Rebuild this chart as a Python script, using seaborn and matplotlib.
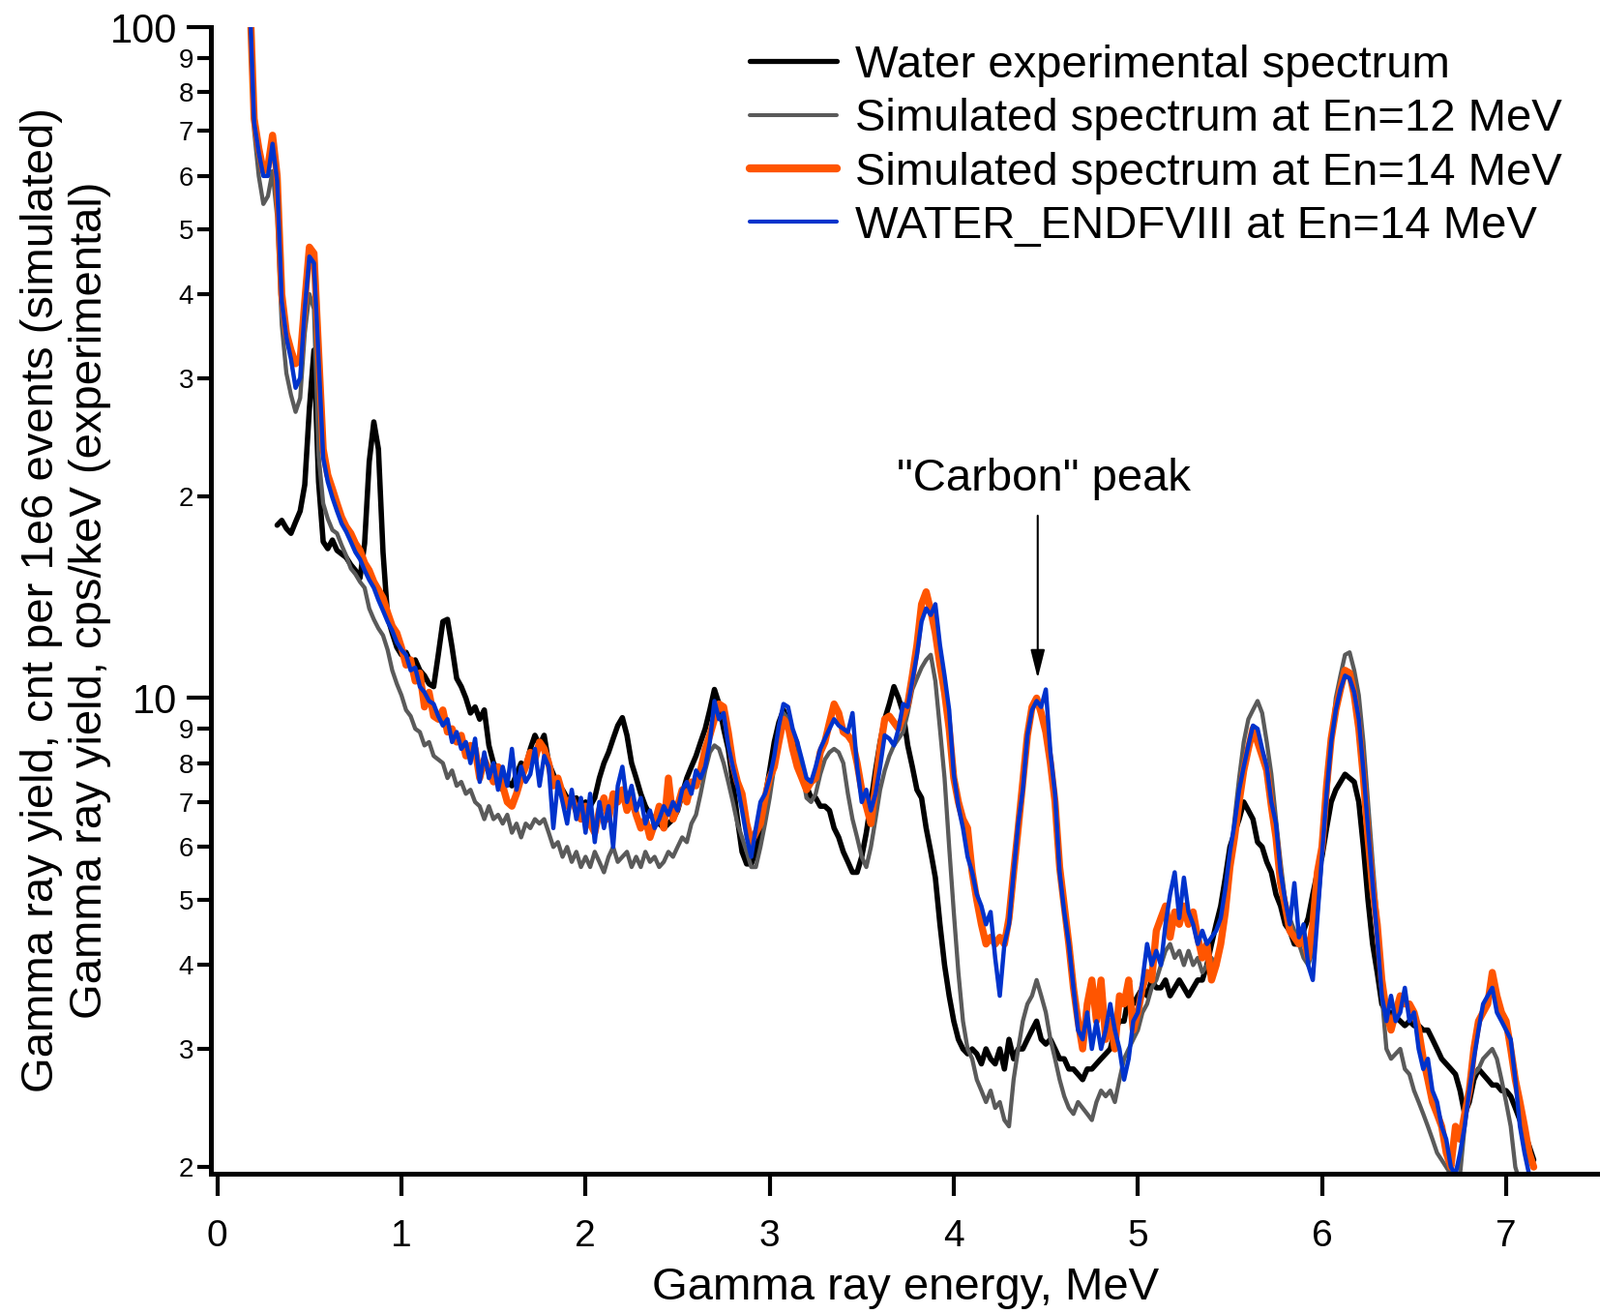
import numpy as np
import pandas as pd
import matplotlib
matplotlib.use("Agg")
import matplotlib.pyplot as plt
import seaborn as sns
from matplotlib.ticker import FixedLocator, FixedFormatter

sns.set_style("ticks")
plt.rcParams['font.family'] = ['Liberation Sans', 'DejaVu Sans']
for k in ["text.color", "axes.labelcolor", "xtick.color", "ytick.color",
          "axes.edgecolor"]:
    plt.rcParams[k] = "black"

# ---------------- data (energy grid step, MeV) ----------------
E_STEP = 0.025
SIM_START = 0.175   # first energy of simulated spectra
EXP_START = 0.325   # first energy of experimental spectrum

labels = ["Water experimental spectrum",
          "Simulated spectrum at En=12 MeV",
          "Simulated spectrum at En=14 MeV",
          "WATER_ENDFVIII at En=14 MeV"]

exp_water = [
    18.1, 18.4, 17.9, 17.6, 18.3, 19.0, 20.8, 27, 33, 21,
    17.1, 16.7, 17.2, 16.6, 16.4, 16.2, 15.8, 15.5, 15.1, 17.0,
    22.5, 25.8, 23.5, 16.5, 13.2, 12.5, 11.9, 11.6, 11.7, 11.3,
    11.4, 11.0, 10.8, 10.5, 10.4, 11.6, 13.0, 13.1, 11.9, 10.7,
    10.4, 10.0, 9.5, 9.7, 9.3, 9.6, 8.5, 8.0, 7.8, 7.3,
    7.5, 7.4, 7.7, 8.0, 7.9, 8.4, 8.8, 8.5, 8.8, 8.0,
    7.7, 7.4, 7.3, 7.1, 7.0, 7.1, 6.9, 7.0, 6.9, 7.1,
    7.6, 8.0, 8.3, 8.7, 9.1, 9.35, 8.8, 8.0, 7.6, 7.2,
    6.9, 6.7, 6.6, 6.5, 6.4, 6.5, 6.6, 6.8, 7.2, 7.6,
    7.9, 8.2, 8.6, 9.0, 9.6, 10.3, 9.8, 9.0, 8.4, 7.5,
    6.6, 5.9, 5.66, 5.66, 5.9, 6.4, 7.1, 7.8, 8.6, 9.2,
    9.6, 9.2, 8.7, 8.3, 7.8, 7.4, 7.1, 7.1, 6.9, 6.9,
    6.8, 6.4, 6.2, 5.9, 5.7, 5.5, 5.5, 5.8, 6.3, 7.0,
    7.8, 8.6, 9.3, 9.8, 10.4, 10.0, 9.5, 8.5, 7.9, 7.3,
    7.1, 6.4, 5.9, 5.4, 4.6, 4.0, 3.6, 3.3, 3.1, 3.0,
    2.95, 3.0, 2.95, 2.85, 3.0, 2.9, 2.85, 3.0, 2.8, 3.1,
    2.9, 3.0, 3.0, 3.1, 3.2, 3.3, 3.1, 3.05, 3.1, 3.0,
    2.9, 2.9, 2.8, 2.8, 2.75, 2.7, 2.8, 2.8, 2.85, 2.9,
    2.95, 3.0, 3.2, 3.3, 3.3, 3.6, 3.5, 3.6, 3.7, 3.6,
    3.8, 3.7, 3.7, 3.8, 3.6, 3.7, 3.8, 3.7, 3.6, 3.7,
    3.8, 3.8, 4.0, 4.3, 4.6, 4.9, 5.4, 6.0, 6.3, 6.6,
    7.0, 6.8, 6.6, 6.1, 6.0, 5.7, 5.5, 5.1, 4.9, 4.6,
    4.5, 4.3, 4.3, 4.5, 4.7, 5.1, 5.5, 5.8, 6.4, 7.0,
    7.3, 7.5, 7.7, 7.6, 7.5, 7.0, 6.0, 5.0, 4.3, 3.9,
    3.5, 3.4, 3.4, 3.35, 3.3, 3.25, 3.3, 3.25, 3.25, 3.2,
    3.2, 3.1, 3.0, 2.9, 2.85, 2.8, 2.75, 2.6, 2.4, 2.5,
    2.7, 2.8, 2.75, 2.7, 2.65, 2.65, 2.6, 2.6, 2.55, 2.45,
    2.35, 2.25, 2.15, 2.05,
]

sim_12 = [
    110, 70, 60, 54.5, 56, 61, 52, 36, 30.5, 28.3,
    26.7, 28, 35, 40, 38, 23, 19.5, 18.5, 17.8, 17.6,
    16.9, 16.3, 15.6, 15.3, 14.9, 14.6, 13.6, 13.1, 12.7, 12.4,
    11.8, 11.0, 10.5, 10.1, 9.6, 9.4, 9.0, 8.9, 8.5, 8.6,
    8.2, 8.1, 8.0, 7.6, 7.8, 7.4, 7.5, 7.2, 7.3, 7.0,
    6.9, 6.6, 6.9, 6.6, 6.7, 6.5, 6.7, 6.3, 6.5, 6.2,
    6.5, 6.4, 6.6, 6.5, 6.6, 6.3, 6.0, 6.1, 5.8, 6.0,
    5.7, 5.9, 5.6, 5.8, 5.6, 5.9, 5.7, 5.5, 5.8, 6.0,
    5.7, 5.8, 5.9, 5.6, 5.8, 5.6, 5.9, 5.7, 5.8, 5.6,
    5.7, 5.9, 5.8, 6.0, 6.2, 6.1, 6.5, 6.7, 7.2, 7.8,
    8.3, 8.5, 8.4, 8.0, 7.5, 7.0, 6.5, 6.2, 5.9, 5.6,
    5.6, 6.0, 6.5, 7.1, 7.9, 8.9, 9.5, 9.3, 8.9, 8.6,
    7.8, 7.1, 7.0, 7.2, 7.7, 8.1, 8.3, 8.4, 8.3, 8.0,
    7.2, 6.6, 6.2, 5.8, 5.6, 6.0, 6.6, 7.3, 7.8, 8.2,
    8.5, 8.7, 8.9, 9.5, 10.3, 10.7, 11.1, 11.4, 11.6, 10.6,
    9.0, 7.6, 6.0, 4.8, 3.9, 3.3, 3.0, 2.9, 2.7, 2.6,
    2.5, 2.6, 2.45, 2.5, 2.35, 2.3, 2.7, 3.0, 3.3, 3.5,
    3.6, 3.8, 3.6, 3.4, 3.1, 2.9, 2.7, 2.55, 2.45, 2.4,
    2.5, 2.45, 2.4, 2.35, 2.5, 2.6, 2.55, 2.6, 2.5, 2.7,
    2.9, 3.0, 3.1, 3.2, 3.4, 3.5, 3.7, 3.8, 4.0, 4.2,
    4.3, 4.1, 4.2, 4.0, 4.2, 4.0, 4.1, 3.9, 4.0, 4.1,
    4.0, 4.3, 4.8, 5.6, 6.6, 7.6, 8.6, 9.3, 9.6, 9.9,
    9.5, 8.6, 7.7, 6.6, 5.7, 5.0, 4.7, 4.5, 4.3, 4.1,
    4.0, 4.2, 4.8, 5.8, 7.0, 8.6, 10.0, 10.8, 11.6, 11.7,
    11.0, 10.1, 8.6, 7.0, 5.7, 4.7, 3.6, 3.0, 2.9, 2.95,
    3.0, 2.8, 2.75, 2.6, 2.5, 2.4, 2.3, 2.2, 2.1, 2.05,
    2.0, 1.95, 1.9, 1.95, 2.3, 2.6, 2.75, 2.8, 2.9, 2.95,
    3.0, 2.9, 2.7, 2.5, 2.3, 2.0, 1.9, 1.85, 1.8, 1.8,
]

sim_14 = [
    115, 73, 66, 61, 62, 69, 60, 40, 35, 33,
    31.5, 32, 39, 47, 46, 33, 23.5, 21.5, 20.5, 19.5,
    18.6, 18.0, 17.6, 17.0, 16.6, 15.9, 15.5, 14.9, 14.5, 14.1,
    13.4, 12.8, 12.5, 11.9, 11.2, 11.4, 10.6, 10.9, 9.7, 10.2,
    9.4, 9.3, 9.6, 8.9, 9.0, 8.6, 8.8, 8.2, 8.5, 8.4,
    7.6, 8.1, 7.8, 7.5, 7.9, 7.4, 7.0, 6.9, 7.2, 7.6,
    7.9, 8.3, 8.1, 8.6, 8.4, 8.0, 7.4, 7.6, 7.2, 6.9,
    7.1, 6.8, 6.6, 6.9, 6.5, 6.3, 6.8, 7.1, 6.6, 7.2,
    7.0, 7.3, 6.8, 7.1, 6.7, 6.4, 6.6, 6.2, 6.5, 6.9,
    6.4, 7.6, 6.6, 6.9, 7.3, 7.0, 7.5, 7.4, 7.8, 8.4,
    8.8, 9.3, 9.8, 9.7, 8.9, 8.0, 7.5, 7.2, 6.5, 6.1,
    6.3, 6.5, 7.1, 7.6, 7.9, 8.6, 9.3, 9.1, 8.4, 7.9,
    7.6, 7.3, 7.5, 7.6, 8.3, 8.6, 9.2, 9.8, 9.5, 8.9,
    8.8, 8.6, 8.0, 7.3, 6.9, 6.5, 7.4, 8.4, 9.3, 9.4,
    9.2, 9.0, 9.4, 9.8, 10.8, 12.0, 13.8, 14.4, 13.5, 12.5,
    11.2, 10.2, 9.0, 7.6, 7.0, 6.6, 6.4, 5.5, 5.0, 4.6,
    4.3, 4.4, 4.3, 4.4, 4.3, 4.7, 5.5, 6.4, 7.5, 8.8,
    9.7, 10.0, 9.5, 8.9, 8.0, 7.0, 5.6, 4.9, 4.3, 3.7,
    3.3, 3.0, 3.5, 3.8, 3.3, 3.8, 3.1, 3.3, 3.0, 3.6,
    3.5, 3.8, 3.2, 3.4, 3.7, 3.9, 3.8, 4.5, 4.7, 4.9,
    4.4, 4.8, 4.6, 4.9, 4.6, 4.8, 4.4, 4.1, 4.3, 3.8,
    4.0, 4.3, 4.8, 5.6, 6.2, 7.0, 7.8, 8.4, 9.0, 8.6,
    8.2, 7.8, 6.9, 6.2, 5.3, 4.9, 4.5, 4.4, 4.3, 4.4,
    4.1, 4.6, 5.5, 6.0, 7.4, 8.7, 9.6, 10.3, 11.0, 10.9,
    10.1, 9.0, 7.6, 6.2, 5.2, 4.6, 3.8, 3.4, 3.2, 3.4,
    3.6, 3.5, 3.5, 3.4, 3.2, 2.9, 2.7, 2.5, 2.4, 2.3,
    2.1, 2.0, 2.3, 2.2, 2.4, 2.6, 3.0, 3.3, 3.4, 3.5,
    3.9, 3.6, 3.4, 3.3, 3.0, 2.7, 2.5, 2.3, 2.1, 2.0,
]

endf_14 = [
    112, 72, 65, 60, 60, 67, 59, 39, 34.5, 32,
    29, 30, 38, 45.5, 44.5, 32, 22.8, 21, 19.9, 19,
    18.2, 17.7, 17.1, 16.5, 16.1, 15.5, 15.0, 14.6, 14.0, 13.5,
    13.0, 12.6, 12.1, 11.8, 11.6, 11.0, 11.1, 10.4, 10.2, 9.9,
    9.8, 9.4, 9.1, 9.3, 8.6, 8.9, 8.4, 8.6, 8.0, 8.7,
    7.5, 8.3, 7.6, 8.0, 7.3, 7.9, 7.4, 8.4, 7.3, 7.9,
    7.5, 7.7, 8.4, 7.4, 8.2, 7.9, 6.4, 7.5, 7.0, 6.5,
    7.3, 6.6, 7.1, 6.3, 7.2, 6.1, 7.0, 6.4, 6.9, 6.0,
    7.4, 7.9, 7.0, 7.4, 6.8, 7.1, 6.5, 6.8, 6.4, 6.6,
    6.9, 6.7, 7.0, 6.8, 7.3, 7.5, 7.2, 7.8, 7.6, 7.9,
    8.6, 9.9, 9.3, 9.5, 8.5, 7.9, 7.4, 6.8, 6.2, 5.8,
    6.4, 7.0, 7.2, 7.6, 8.2, 9.1, 9.8, 9.7, 9.0, 8.6,
    8.1, 7.6, 7.5, 7.9, 8.4, 8.7, 9.0, 9.3, 9.1, 9.0,
    8.9, 9.5, 7.9, 7.0, 7.3, 6.8, 7.2, 7.9, 8.8, 8.7,
    8.5, 9.0, 9.8, 9.7, 10.6, 11.6, 13.0, 13.6, 13.3, 13.8,
    12.0, 10.8, 9.6, 7.7, 6.9, 6.4, 5.8, 5.5, 5.1, 4.9,
    4.6, 4.8, 4.1, 3.6, 4.3, 4.6, 5.5, 6.5, 7.3, 8.8,
    9.6, 9.9, 9.7, 10.3, 8.3, 7.2, 5.5, 4.8, 4.3, 3.7,
    3.2, 3.1, 3.4, 3.0, 3.3, 3.0, 3.2, 3.5, 3.2, 3.0,
    2.7, 2.9, 3.3, 3.4, 3.8, 4.3, 4.0, 4.2, 4.0, 4.6,
    5.1, 5.5, 4.7, 5.4, 4.8, 4.6, 4.3, 4.5, 4.3, 4.4,
    4.5, 4.7, 5.2, 5.9, 6.5, 7.3, 7.9, 8.5, 9.1, 9.0,
    8.4, 7.9, 7.0, 6.5, 5.5, 5.0, 4.6, 5.3, 4.4, 4.6,
    4.0, 3.8, 4.7, 5.8, 7.2, 8.6, 9.6, 10.3, 10.8, 10.7,
    10.2, 9.3, 7.8, 6.4, 5.3, 4.4, 3.6, 3.3, 3.6, 3.3,
    3.4, 3.7, 3.3, 3.4, 3.0, 2.8, 2.9, 2.6, 2.5, 2.3,
    2.2, 2.0, 1.95, 2.1, 2.3, 2.6, 2.9, 3.2, 3.5, 3.6,
    3.7, 3.4, 3.3, 3.2, 3.1, 2.7, 2.3, 2.1, 1.95, 1.9,
]

x_ticks = [0, 1, 2, 3, 4, 5, 6, 7]
y_major = [10, 100]
y_major_labels = ["10", "100"]
y_minor = [2, 3, 4, 5, 6, 7, 8, 9, 20, 30, 40, 50, 60, 70, 80, 90]
y_minor_labels = ["2", "3", "4", "5", "6", "7", "8", "9",
                  "2", "3", "4", "5", "6", "7", "8", "9"]

annot_text = '"Carbon" peak'
annot_energy = 4.456
annot_tip, annot_tail = 10.7, 18.7
annot_text_pos = (4.49, 21.2)

# ---------------- build table ----------------
frames = []
for lab, start, vals in zip(labels,
                            [EXP_START, SIM_START, SIM_START, SIM_START],
                            [exp_water, sim_12, sim_14, endf_14]):
    e = start + E_STEP * np.arange(len(vals))
    frames.append(pd.DataFrame({"energy": e, "yield": vals, "series": lab}))
df = pd.concat(frames, ignore_index=True)

colors = ["#000000", "#5a5a5a", "#FF5500", "#0033CC"]
widths = [4.0, 3.1, 5.3, 3.2]

W, H = 1654, 1358
fig = plt.figure(figsize=(W / 100, H / 100), dpi=100)
ax = fig.add_axes([218 / W, 1 - 1213 / H, 1 - 218 / W, (1213 - 28) / H])

for lab, c, lw in zip(labels, colors, widths):
    sns.lineplot(data=df[df["series"] == lab], x="energy", y="yield",
                 color=c, linewidth=lw, ax=ax, label=lab,
                 estimator=None, sort=False)

ax.set_yscale("log")
ax.set_ylim(1.955, 100)
ax.set_xlim(-0.035, 7.51)

ax.yaxis.set_major_locator(FixedLocator(y_major))
ax.yaxis.set_major_formatter(FixedFormatter(y_major_labels))
ax.yaxis.set_minor_locator(FixedLocator(y_minor))
ax.yaxis.set_minor_formatter(FixedFormatter(y_minor_labels))
ax.set_xticks(x_ticks)
ax.set_xticklabels([str(t) for t in x_ticks])

ax.tick_params(axis="y", which="major", length=18, width=3, labelsize=30,
               pad=7, direction="out")
ax.tick_params(axis="y", which="minor", length=10, width=3, labelsize=20,
               pad=3, direction="out")
ax.tick_params(axis="x", which="major", length=16.5, width=3, labelsize=28,
               pad=17, direction="out")

for s in ["top", "right"]:
    ax.spines[s].set_visible(False)
for s in ["left", "bottom"]:
    ax.spines[s].set_linewidth(3.6)
    ax.spines[s].set_color("black")

ax.set_xlabel("Gamma ray energy, MeV", fontsize=34, labelpad=10)
ax.set_ylabel("")
fig.text(68 / W, 1 - 620 / H,
         "Gamma ray yield, cnt per 1e6 events (simulated)\n"
         "Gamma ray yield, cps/keV (experimental)",
         rotation=90, ha="center", va="center", multialignment="center",
         fontsize=34, linespacing=1.2)

ax.annotate("", xy=(annot_energy, annot_tip), xytext=(annot_energy, annot_tail),
            arrowprops=dict(arrowstyle="-|>,head_length=0.6,head_width=0.15",
                            mutation_scale=30, color="black", lw=1.5,
                            shrinkA=0, shrinkB=0))
ax.text(annot_text_pos[0], annot_text_pos[1], annot_text, ha="center",
        va="center", fontsize=34)

leg = ax.legend(loc="upper left", bbox_to_anchor=(775 / W, 1 - 46 / H),
                bbox_transform=fig.transFigure, frameon=False, fontsize=34,
                handlelength=1.9, handletextpad=0.4, labelspacing=0.24,
                borderpad=0, borderaxespad=0)
for ln, lw in zip(leg.get_lines(), [3.8, 2.9, 6.0, 3.0]):
    ln.set_linewidth(lw)

fig.savefig("out.png", dpi=100)
